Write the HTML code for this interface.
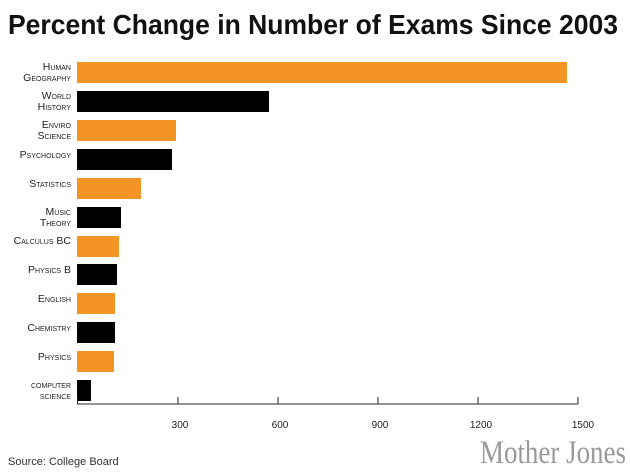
<!DOCTYPE html>
<html><head><meta charset="utf-8"><style>
html,body{margin:0;padding:0;background:#fff;}
svg{display:block;}
.l{font-family:"Liberation Sans",sans-serif;font-size:10.5px;font-variant:small-caps;fill:#222;text-anchor:end;}
.t{font-family:"Liberation Sans",sans-serif;font-size:10px;fill:#222;text-anchor:middle;}
</style></head><body>
<svg width="630" height="476" viewBox="0 0 630 476">
<text x="8" y="34" font-family="Liberation Sans, sans-serif" font-weight="bold" font-size="28" fill="#111" textLength="610" lengthAdjust="spacingAndGlyphs">Percent Change in Number of Exams Since 2003</text>
<g>
<rect x="77" y="62" width="490" height="21" fill="#f39425"/>
<rect x="77" y="91" width="192" height="21" fill="#000"/>
<rect x="77" y="120" width="99" height="21" fill="#f39425"/>
<rect x="77" y="149" width="95" height="21" fill="#000"/>
<rect x="77" y="178" width="64" height="21" fill="#f39425"/>
<rect x="77" y="207" width="44" height="21" fill="#000"/>
<rect x="77" y="236" width="42" height="21" fill="#f39425"/>
<rect x="77" y="264" width="40" height="21" fill="#000"/>
<rect x="77" y="293" width="38" height="21" fill="#f39425"/>
<rect x="77" y="322" width="38" height="21" fill="#000"/>
<rect x="77" y="351" width="37" height="21" fill="#f39425"/>
<rect x="77" y="380" width="14" height="21" fill="#000"/>
</g>
<text class="l" x="71" y="70">Human</text><text class="l" x="71" y="81">Geography</text>
<text class="l" x="71" y="99">World</text><text class="l" x="71" y="110">History</text>
<text class="l" x="71" y="128">Enviro</text><text class="l" x="71" y="139">Science</text>
<text class="l" x="71" y="158">Psychology</text>
<text class="l" x="71" y="187">Statistics</text>
<text class="l" x="71" y="215">Music</text><text class="l" x="71" y="226">Theory</text>
<text class="l" x="71" y="244">Calculus BC</text>
<text class="l" x="71" y="273">Physics B</text>
<text class="l" x="71" y="302">English</text>
<text class="l" x="71" y="331">Chemistry</text>
<text class="l" x="71" y="360">Physics</text>
<text class="l" x="71" y="388" style="font-size:10px">computer</text><text class="l" x="71" y="399" style="font-size:10px">science</text>
<line x1="77" y1="404" x2="578" y2="404" stroke="#555" stroke-width="1.2"/>
<g stroke="#222" stroke-width="1">
<line x1="77.5" y1="397" x2="77.5" y2="404"/>
<line x1="178" y1="397" x2="178" y2="404"/>
<line x1="278" y1="397" x2="278" y2="404"/>
<line x1="378" y1="397" x2="378" y2="404"/>
<line x1="478" y1="397" x2="478" y2="404"/>
<line x1="578" y1="397" x2="578" y2="404"/>
</g>
<text class="t" x="180" y="428">300</text>
<text class="t" x="280" y="428">600</text>
<text class="t" x="380" y="428">900</text>
<text class="t" x="481" y="428">1200</text>
<text class="t" x="583" y="428">1500</text>
<text x="8" y="465" font-family="Liberation Sans, sans-serif" font-size="11" fill="#333">Source: College Board</text>
<text x="626" y="463" text-anchor="end" font-family="Liberation Serif, serif" font-size="33" fill="#999" textLength="146" lengthAdjust="spacingAndGlyphs">Mother Jones</text>
</svg>
</body></html>
